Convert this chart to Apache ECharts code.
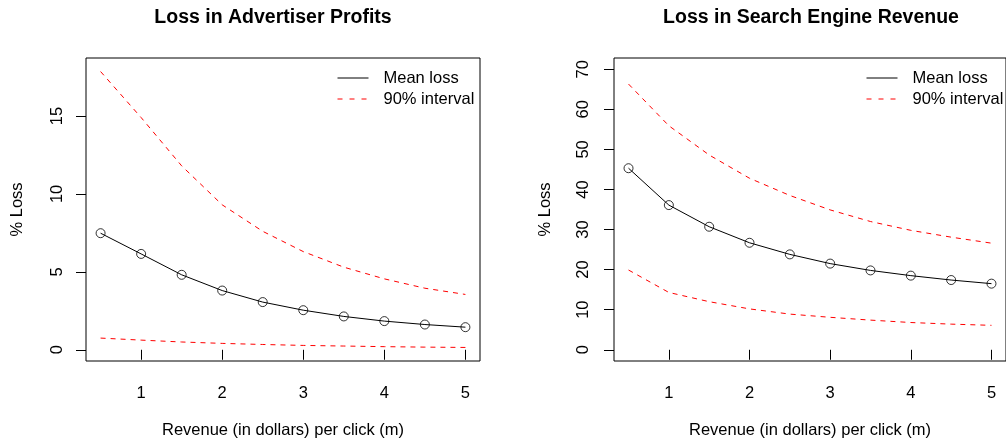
<!DOCTYPE html>
<html>
<head>
<meta charset="utf-8">
<script src="https://cdn.jsdelivr.net/npm/echarts@6/dist/echarts.min.js"></script>
<style>
  html, body { margin: 0; padding: 0; background: #fff; }
  #chart { width: 1006px; height: 444px; }
</style>
</head>
<body>
<div id="chart"></div>
<script>
// Revenue per click (m), shared by both panels
const revenuePerClick = [0.5, 1, 1.5, 2, 2.5, 3, 3.5, 4, 4.5, 5];

// Loss in advertiser profits (%)
const profitMean  = [7.48, 6.15, 4.81, 3.80, 3.06, 2.54, 2.14, 1.84, 1.62, 1.45];
const profitUpper = [17.85, 14.9, 11.8, 9.3, 7.6, 6.3, 5.3, 4.55, 3.95, 3.55];
const profitLower = [0.75, 0.62, 0.5, 0.41, 0.34, 0.28, 0.24, 0.2, 0.17, 0.15];

// Loss in search engine revenue (%)
const revenueMean  = [45.3, 36.1, 30.7, 26.7, 23.8, 21.5, 19.8, 18.5, 17.4, 16.5];
const revenueUpper = [66.3, 55.9, 48.6, 42.8, 38.5, 34.9, 32.0, 29.8, 28.1, 26.6];
const revenueLower = [19.9, 14.3, 12.0, 10.2, 8.9, 8.1, 7.4, 6.8, 6.4, 6.1];

// Tick labels
const xTicks = [1, 2, 3, 4, 5];
const profitTicks = [0, 5, 10, 15];
const revenueTicks = [0, 10, 20, 30, 40, 50, 60, 70];

const FONT = '"Liberation Sans", Arial, Helvetica, sans-serif';
const BASE = 16.5;

const pairs = ys => revenuePerClick.map((x, i) => [x, ys[i]]);

function xAxisFor(gridIndex) {
  return {
    type: 'value', gridIndex,
    min: 0.32, max: 5.18,
    name: 'Revenue (in dollars) per click (m)',
    nameLocation: 'middle', nameGap: 61,
    nameTextStyle: { fontFamily: FONT, fontSize: BASE, color: '#000' },
    axisLine: { show: false },
    axisTick: { show: true, inside: false, length: 10, customValues: xTicks,
                lineStyle: { color: '#000', width: 1 } },
    axisLabel: { show: true, customValues: xTicks, margin: 24,
                 fontFamily: FONT, fontSize: BASE, color: '#000' },
    splitLine: { show: false }
  };
}

function yAxisFor(gridIndex, min, max, ticks, margin) {
  return {
    type: 'value', gridIndex, min, max,
    name: '% Loss',
    nameLocation: 'middle', nameGap: 60, nameRotate: 90,
    nameTextStyle: { fontFamily: FONT, fontSize: BASE, color: '#000' },
    axisLine: { show: false },
    axisTick: { show: true, inside: false, length: 10, customValues: ticks,
                lineStyle: { color: '#000', width: 1 } },
    axisLabel: { show: true, customValues: ticks, rotate: 90, margin,
                 fontFamily: FONT, fontSize: BASE, color: '#000' },
    splitLine: { show: false }
  };
}

function panelSeries(idx, mean, upper, lower) {
  const dashed = { color: '#ff0000', width: 1, type: [5, 5] };
  return [
    { name: 'Mean loss', type: 'line', xAxisIndex: idx, yAxisIndex: idx,
      data: pairs(mean), symbol: 'none',
      lineStyle: { color: '#000', width: 1 }, itemStyle: { color: '#000' } },
    { name: 'Mean loss points', type: 'scatter', xAxisIndex: idx, yAxisIndex: idx,
      data: pairs(mean), symbol: 'circle', symbolSize: 9,
      itemStyle: { color: 'rgba(0,0,0,0)', borderColor: '#000', borderWidth: 1 } },
    { name: '90% interval', type: 'line', xAxisIndex: idx, yAxisIndex: idx,
      data: pairs(upper), symbol: 'none', lineStyle: dashed, itemStyle: { color: '#ff0000' } },
    { name: '90% interval', type: 'line', xAxisIndex: idx, yAxisIndex: idx,
      data: pairs(lower), symbol: 'none', lineStyle: dashed, itemStyle: { color: '#ff0000' } }
  ];
}

// Legend keys show only the line sample, no marker
function legendAt(left) {
  return {
    data: [
      { name: 'Mean loss', lineStyle: { width: 1, color: '#000', type: 'solid' } },
      { name: '90% interval', lineStyle: { width: 1, color: '#ff0000', type: [5, 7] } }
    ],
    orient: 'vertical', left, top: 69.5, padding: 0,
    itemWidth: 31, itemHeight: 16, itemGap: 4,
    selectedMode: false,
    itemStyle: { color: 'rgba(0,0,0,0)', borderWidth: 0, opacity: 0 },
    textStyle: { fontFamily: FONT, fontSize: BASE, color: '#000',
                 lineHeight: 16, padding: [0, 0, 0, 10] }
  };
}

const chart = echarts.init(document.getElementById('chart'), null, { renderer: 'canvas' });
chart.setOption({
  animation: false,
  backgroundColor: '#fff',
  title: [
    { text: 'Loss in Advertiser Profits', left: 273, top: 8, textAlign: 'center', padding: 0,
      textStyle: { fontFamily: FONT, fontSize: 19.5, fontWeight: 'bold', color: '#000' } },
    { text: 'Loss in Search Engine Revenue', left: 811, top: 8, textAlign: 'center', padding: 0,
      textStyle: { fontFamily: FONT, fontSize: 19.5, fontWeight: 'bold', color: '#000' } }
  ],
  legend: [legendAt(337), legendAt(866)],
  grid: [
    { left: 86, top: 58, width: 394, height: 303, show: true,
      borderColor: '#000', borderWidth: 1, backgroundColor: 'transparent' },
    { left: 614, top: 58, width: 394, height: 303, show: true,
      borderColor: '#000', borderWidth: 1, backgroundColor: 'transparent' }
  ],
  xAxis: [xAxisFor(0), xAxisFor(1)],
  yAxis: [
    yAxisFor(0, -0.72, 18.72, profitTicks, 20),
    yAxisFor(1, -2.8, 72.8, revenueTicks, 22)
  ],
  series: [
    ...panelSeries(0, profitMean, profitUpper, profitLower),
    ...panelSeries(1, revenueMean, revenueUpper, revenueLower)
  ]
});
</script>
</body>
</html>
